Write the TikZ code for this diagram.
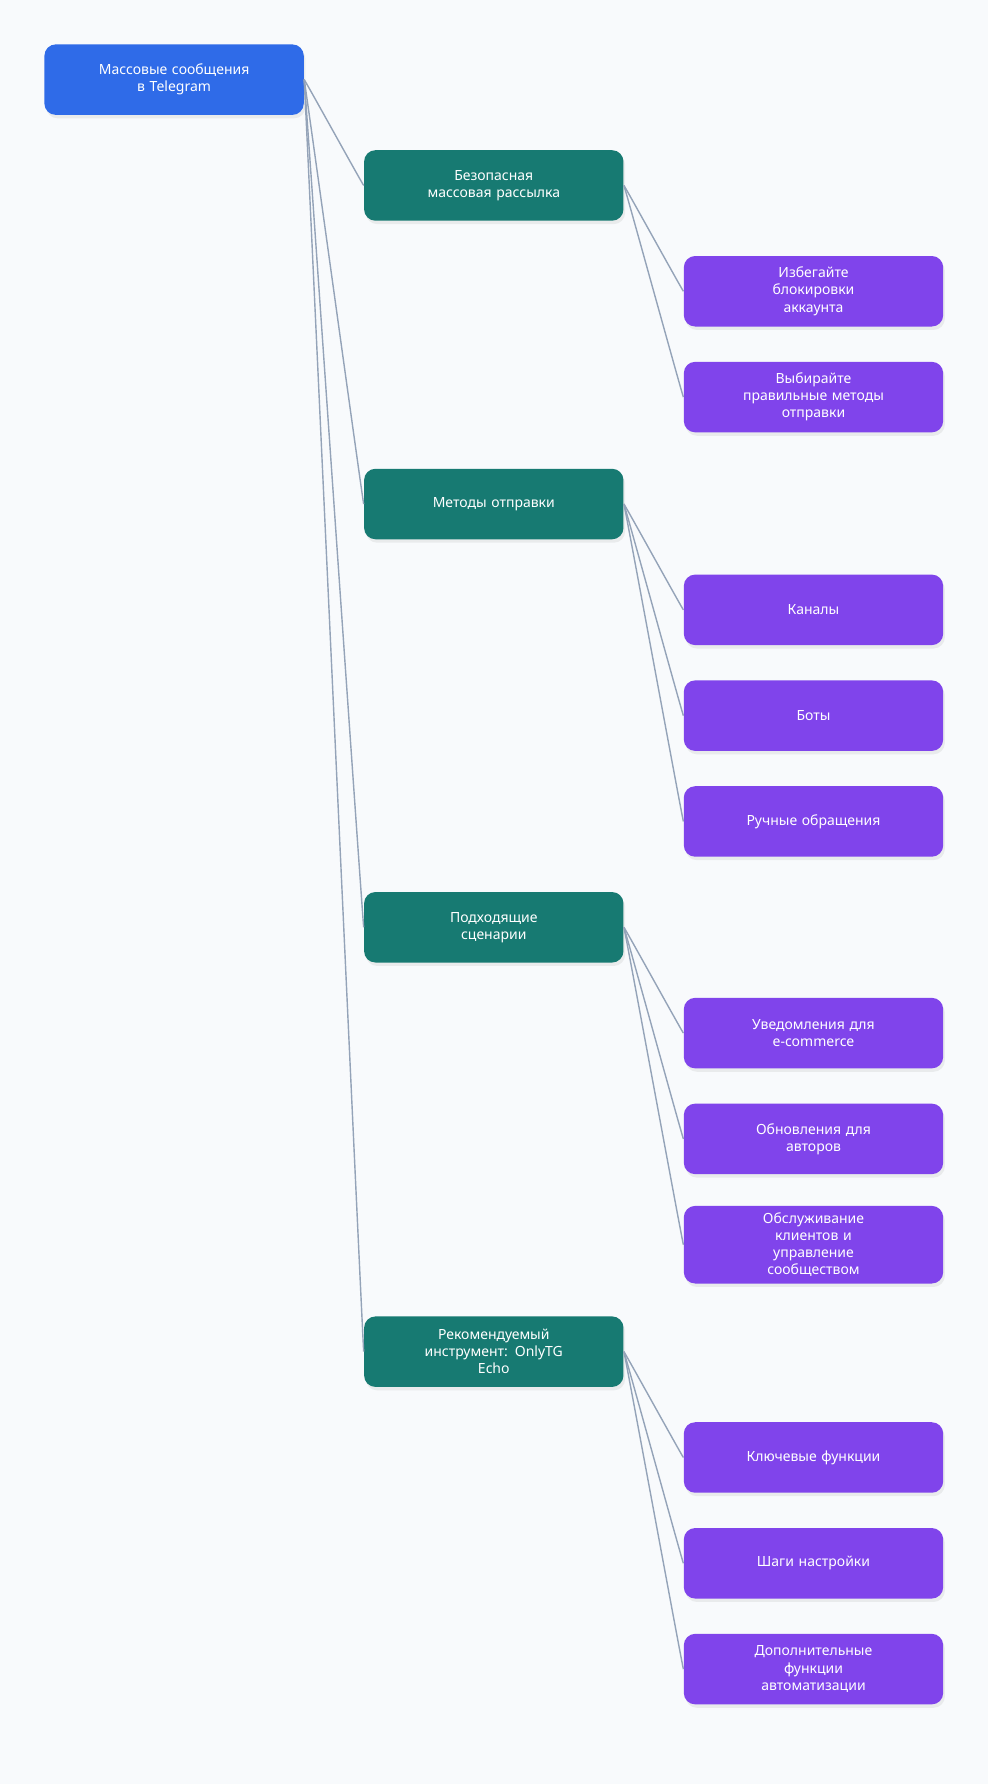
\documentclass[tikz,border=0pt]{standalone}
\usepackage{fontspec}
\setmainfont{Noto Sans}
\usetikzlibrary{positioning, shadows}
\definecolor{bgcol}{HTML}{F8FAFC}
\definecolor{rootblue}{HTML}{2F6BE8}
\definecolor{teal}{HTML}{177A72}
\definecolor{violet}{HTML}{8044EB}
\definecolor{edgegray}{HTML}{94A3B8}

\begin{document}
\begin{tikzpicture}[
        x=0.02cm, y=-0.02cm,
        box/.style={
            rounded corners=0.2cm,
            minimum width=4.56cm,
            minimum height=1.24cm,
            text width=2.9cm,
            align=center,
            text=white,
            font=\fontsize{7}{8.6}\selectfont\bfseries,
            drop shadow={opacity=0.12, shadow xshift=0.03cm, shadow yshift=-0.06cm}
        },
        rootbox/.style={box, fill=rootblue},
        topic/.style={box, fill=teal},
        leaf/.style={box, fill=violet},
        link/.style={draw=edgegray, line width=0.7pt}
    ]
        % background and page size
        \fill[bgcol] (0,0) rectangle (868,1568);
        \useasboundingbox (0,0) rectangle (868,1568);

        % root
        \node[rootbox] (root) at (153,70) {Массовые сообщения\\в Telegram};

        % second level
        \node[topic] (safe)  at (434,163)  {Безопасная\\массовая рассылка};
        \node[topic] (meth)  at (434,443)  {Методы отправки};
        \node[topic] (cases) at (434,815)  {Подходящие\\сценарии};
        \node[topic] (tool)  at (434,1188) {Рекомендуемый\\инструмент: OnlyTG\\Echo};

        % third level
        \node[leaf] (avoid)  at (715,256)  {Избегайте\\блокировки\\аккаунта};
        \node[leaf] (choose) at (715,349)  {Выбирайте\\правильные методы\\отправки};
        \node[leaf] (chan)   at (715,536)  {Каналы};
        \node[leaf] (bots)   at (715,629)  {Боты};
        \node[leaf] (manual) at (715,722)  {Ручные обращения};
        \node[leaf] (shop)   at (715,908)  {Уведомления для\\e-commerce};
        \node[leaf] (auth)   at (715,1001) {Обновления для\\авторов};
        \node[leaf] (serv)   at (715,1094) {Обслуживание\\клиентов и\\управление\\сообществом};
        \node[leaf] (feat)   at (715,1281) {Ключевые функции};
        \node[leaf] (setup)  at (715,1374) {Шаги настройки};
        \node[leaf] (auto)   at (715,1467) {Дополнительные\\функции\\автоматизации};

        % connectors
        \foreach \a/\b in {root/safe, root/meth, root/cases, root/tool,
                           safe/avoid, safe/choose,
                           meth/chan, meth/bots, meth/manual,
                           cases/shop, cases/auth, cases/serv,
                           tool/feat, tool/setup, tool/auto}
            \draw[link] (\a.east) .. controls +(0.53,0) and +(-0.53,0) .. (\b.west);
    \end{tikzpicture}
\end{document}
